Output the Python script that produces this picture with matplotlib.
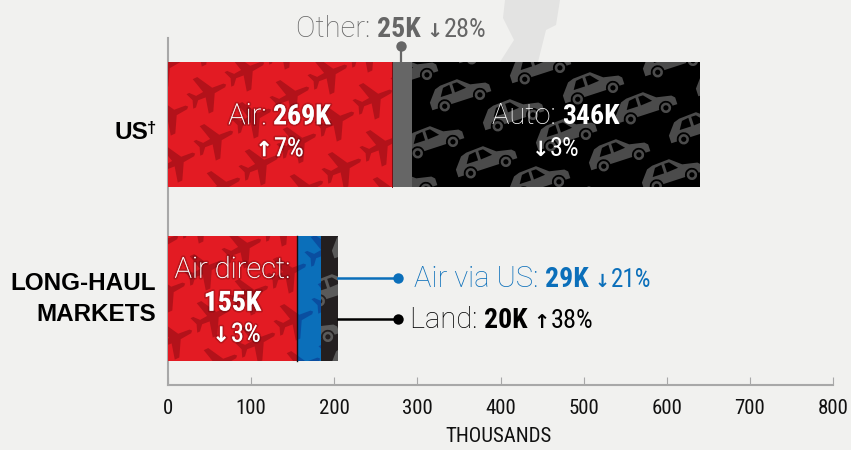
import matplotlib
matplotlib.use("Agg")
import matplotlib.pyplot as plt
import matplotlib.patheffects as pe
import numpy as np
from matplotlib.path import Path
from matplotlib.patches import PathPatch, Polygon, Circle
from matplotlib.transforms import Affine2D, IdentityTransform

# ---- data (thousands) ----
groups = ["US", "LONG-HAUL MARKETS"]
us_labels = ["Air", "Other", "Auto"]
us_values = [269, 25, 346]
lh_labels = ["Air direct", "Air via US", "Land"]
lh_values = [155, 29, 20]
x_ticks = [0, 100, 200, 300, 400, 500, 600, 700, 800]

RED, BLUE, GREY, BLACK, DARK = "#e31b23", "#0b6fba", "#666666", "#000000", "#231f20"
PLANE_RED, PLANE_BLUE, CAR_GREY = "#b3121a", "#0a4ea0", "#4b4b4b"
BG = "#f1f1ef"
W, H = 851, 450

fig = plt.figure(figsize=(W / 100, H / 100), dpi=100, facecolor=BG)
ax = fig.add_axes([168 / W, (H - 385) / H, 665 / W, 347 / H], facecolor="none")
ax.set_xlim(0, 800)
ax.set_ylim(1.5, -0.5)

NARROW = ["Liberation Sans Narrow", "Roboto Condensed", "Liberation Sans"]
LIGHT = ["Roboto", "DejaVu Sans"]
ARROW = ["DejaVu Sans"]


def dx(px):
    return (px - 168) * 800 / 665


def dy(py):
    return (py - 124.5) / 174


def s_light(size):
    return dict(family=LIGHT, weight="light", fontsize=size)


def s_bold(size):
    return dict(family=NARROW, weight="bold", fontsize=size)


def s_num(size):
    return dict(family=NARROW, weight="normal", fontsize=size)


def s_arrow(size):
    return dict(family=ARROW, weight="bold", fontsize=size)


def runs(px, py, items, color, align="left", effects=None):
    """Lay out (text, style) runs on one baseline."""
    r = fig.canvas.get_renderer()
    arts, widths = [], []
    for txt, st in items:
        t = ax.text(0, dy(py), txt, color=color, va="baseline", ha="left", zorder=8, **st)
        if effects:
            t.set_path_effects(effects)
        arts.append(t)
        if txt.endswith(" "):
            probe = ax.text(0, 0, txt.rstrip() + "|", **st)
            bar = ax.text(0, 0, "|", **st)
            wd = probe.get_window_extent(r).width - bar.get_window_extent(r).width + st["fontsize"] * 0.3
            probe.remove()
            bar.remove()
        else:
            wd = t.get_window_extent(r).width + 1
        widths.append(wd)
    total = sum(widths)
    start = {"left": px, "center": px - total / 2, "right": px - total}[align]
    for t, w in zip(arts, widths):
        t.set_x(dx(start))
        start += w


# ---- bars ----
def stacked(row, values, colors):
    left, out = 0, []
    for v, c in zip(values, colors):
        out.append(ax.barh(row, v, left=left, height=125 / 174, color=c, zorder=2, linewidth=0)[0])
        left += v
    return out


us_bars = stacked(0, us_values, [RED, GREY, BLACK])
lh_bars = stacked(1, lh_values, [RED, BLUE, DARK])

# ---- decorative icon patterns ----
plane = Path(
    np.array([
        (20, 0), (18, 2), (6, 3), (-3, 19), (-8, 19), (-4, 3), (-12, 2.4), (-17, 8),
        (-20, 8), (-17, 0), (-20, -8), (-17, -8), (-12, -2.4), (-4, -3), (-8, -19), (-3, -19),
        (6, -3), (18, -2), (20, 0),
    ], dtype=float),
    closed=True,
)
car_body = Polygon(
    [(-31, -6), (-31, 2), (-22, 13), (-16, 15), (2, 16), (13, 7), (28, 4), (31, 1), (31, -6)],
    closed=True).get_path()
win1 = [(-19, 4), (-14, 12), (-7, 13), (-7, 4)]
win2 = [(-4, 4), (-4, 13), (1, 13), (8, 5)]


def px_tf(cx, cy, angle):
    return Affine2D().rotate_deg(angle).translate(cx, H - cy) + IdentityTransform()


def planes(bar, color, x0=208, y0=93):
    ext = bar.get_window_extent(fig.canvas.get_renderer())
    for i in range(-8, 14):
        for j in range(-8, 14):
            cx = x0 + i * 45 + j * 38
            cy = y0 + i * 25 - j * 22
            if ext.x0 - 30 < cx < ext.x1 + 30 and H - ext.y1 - 30 < cy < H - ext.y0 + 30:
                p = PathPatch(plane, facecolor=color, lw=0, zorder=3, transform=px_tf(cx, cy, 25))
                ax.add_patch(p)
                p.set_clip_path(bar)


def cars(bar, fg, bg, x0=593, y0=88):
    ext = bar.get_window_extent(fig.canvas.get_renderer())
    for i in range(-10, 14):
        for j in range(-10, 14):
            cx = x0 + i * 53 - j * 27
            cy = y0 + i * 20 + j * 47
            if ext.x0 - 40 < cx < ext.x1 + 40 and H - ext.y1 - 30 < cy < H - ext.y0 + 30:
                tf = px_tf(cx, cy, 18)
                items = [PathPatch(car_body, facecolor=fg, lw=0, zorder=3, transform=tf)]
                for w in (win1, win2):
                    items.append(Polygon(w, closed=True, facecolor=bg, lw=0, zorder=4, transform=tf))
                for wx in (-18, 19):
                    items.append(Circle((wx, -6), 7, facecolor=bg, lw=0, zorder=4, transform=tf))
                    items.append(Circle((wx, -6), 5.2, facecolor=fg, lw=0, zorder=5, transform=tf))
                    items.append(Circle((wx, -6), 2.6, facecolor=bg, lw=0, zorder=6, transform=tf))
                for it in items:
                    ax.add_patch(it)
                    it.set_clip_path(bar)


fig.canvas.draw()
planes(us_bars[0], PLANE_RED)
cars(us_bars[2], CAR_GREY, BLACK)
planes(lh_bars[0], PLANE_RED, x0=205, y0=270)
planes(lh_bars[1], PLANE_BLUE, x0=205, y0=270)
cars(lh_bars[2], "#5a5a5a", DARK, x0=335, y0=290)

# thin dark divider on the air bars
ax.plot([us_values[0]] * 2, [-125 / 348, 125 / 348], color="#7a0d12", lw=0.7, zorder=6)
ax.plot([lh_values[0]] * 2, [1 - 125 / 348, 1 + 125 / 348], color="#111111", lw=1.0, zorder=6)

# ---- axes ----
for side in ("top", "right"):
    ax.spines[side].set_visible(False)
for side in ("left", "bottom"):
    ax.spines[side].set_color("#a8a8a8")
    ax.spines[side].set_linewidth(1.5)
    ax.spines[side].set_zorder(1)
ax.set_yticks([])
ax.set_xticks(x_ticks)
ax.tick_params(axis="x", direction="in", length=5.8, width=0.8, color="#a8a8a8", pad=10,
               labelsize=15, labelcolor="#111111")
for lb in ax.get_xticklabels():
    lb.set_family(NARROW)
ax.set_xlabel("THOUSANDS", family=NARROW, fontsize=15, color="#111111", labelpad=6)
ax.xaxis.set_label_coords((499 - 168) / 665, -(441.5 - 385) / 347, transform=ax.transAxes)
ax.xaxis.label.set_va("baseline")

# ---- category labels ----
label_font = dict(family=["Liberation Sans"], weight="bold", fontsize=17.5)
runs(149, 139, [("US", label_font)], "#000000", align="right")
runs(157, 133, [("†", dict(family=["Liberation Sans"], weight="bold", fontsize=12))], "#000000", align="right")
for py, txt in ((290, "LONG-HAUL"), (321, "MARKETS")):
    runs(157, py, [(txt, label_font)], "#000000", align="right")

# ---- leaders ----
TOP = -125 / 348
other_x = us_values[0] + us_values[1] / 2 - 1
ax.plot([other_x, other_x], [dy(46), TOP], color=GREY, lw=1.6, zorder=1.5, clip_on=False)
ax.plot([other_x], [dy(46)], "o", ms=7.5, color=GREY, mew=0, zorder=7, clip_on=False)
lh_end = sum(lh_values)
ax.plot([lh_end, dx(398)], [dy(278)] * 2, color=BLUE, lw=1.8, zorder=6)
ax.plot([dx(398)], [dy(278)], "o", ms=7.5, color=BLUE, mew=0, zorder=7)
ax.plot([lh_end, dx(398)], [dy(319)] * 2, color="#000000", lw=1.8, zorder=6)
ax.plot([dx(398)], [dy(319)], "o", ms=7.5, color="#000000", mew=0, zorder=7)

# ---- value labels ----
glow = [pe.withStroke(linewidth=2.5, foreground=(0, 0, 0, 0.18))]
runs(296, 36, [("Other: ", s_light(21)), ("25K ", s_bold(20)), ("↓", s_arrow(14)), ("28%", s_num(19))], "#666666")
runs(280, 124, [("Air: ", s_light(21)), ("269K", s_bold(20))], "white", "center", glow)
runs(280, 156, [("↑", s_arrow(15)), ("7%", s_num(19))], "white", "center", glow)
runs(556, 124, [("Auto: ", s_light(21)), ("346K", s_bold(20))], "white", "center")
runs(556, 156, [("↓", s_arrow(15)), ("3%", s_num(19))], "white", "center")
runs(233, 278, [("Air direct:", s_light(21))], "white", "center", glow)
runs(233, 311, [("155K", s_bold(20))], "white", "center", glow)
runs(237, 342, [("↓", s_arrow(15)), ("3%", s_num(19))], "white", "center", glow)
runs(414, 287, [("Air via US: ", s_light(21)), ("29K ", s_bold(20)), ("↓", s_arrow(13)), ("21%", s_num(18))], BLUE)
runs(410, 328, [("Land: ", s_light(21)), ("20K ", s_bold(20)), ("↑", s_arrow(14)), ("38%", s_num(19))], "#000000")

# ---- faint torn paper shape at the top ----
fig.add_artist(Polygon(
    np.array([(505, 0), (560, 0), (556, 25), (546, 30), (538, 62), (500, 62), (514, 40), (503, 18)]) / [W, H] * [1, -1] + [0, 1],
    closed=True, facecolor="#e3e3e2", lw=0, transform=fig.transFigure, zorder=-1))

fig.savefig("out.png", dpi=100, facecolor=BG)
